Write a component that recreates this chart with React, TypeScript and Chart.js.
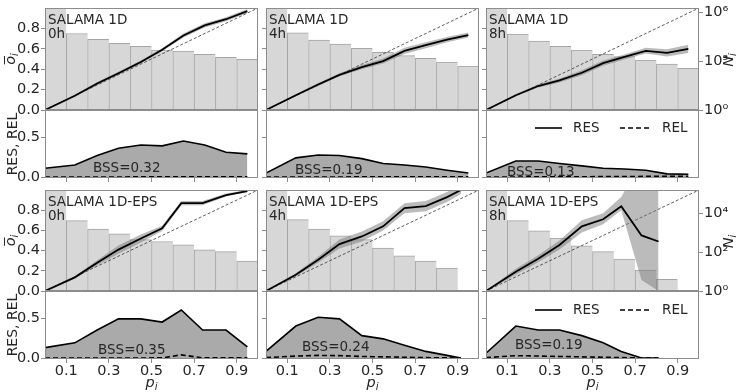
import React, { useEffect, useRef } from "react";
import { Chart, registerables } from "chart.js";

Chart.register(...registerables);

// ---------------- shared axis data ----------------
const BIN_CENTERS = [0.05, 0.15, 0.25, 0.35, 0.45, 0.55, 0.65, 0.75, 0.85, 0.95];
const X_TICKS = [0.1, 0.3, 0.5, 0.7, 0.9];
const REL_Y_TICKS = [0.0, 0.2, 0.4, 0.6, 0.8];
const RES_Y_TICKS = [0.0, 0.5];
const N_TICKS_1D = [1, 1e3, 1e6];
const N_TICK_LABELS_1D = ["10⁰", "10³", "10⁶"];
const N_TICKS_EPS = [1, 1e2, 1e4];
const N_TICK_LABELS_EPS = ["10⁰", "10²", "10⁴"];
const MODELS = ["SALAMA 1D", "SALAMA 1D-EPS"];
const LEADS = ["0h", "4h", "8h"];

// ---------------- SALAMA 1D, 0h ----------------
const P_1D_0H = [0.0, 0.14, 0.245, 0.345, 0.45, 0.55, 0.65, 0.75, 0.85, 0.95];
const O_1D_0H = [0.0, 0.14, 0.26, 0.36, 0.47, 0.59, 0.73, 0.83, 0.89, 0.97];
const OLO_1D_0H = [0.0, 0.13, 0.245, 0.345, 0.455, 0.575, 0.71, 0.81, 0.87, 0.95];
const OHI_1D_0H = [0.0, 0.15, 0.275, 0.375, 0.485, 0.605, 0.75, 0.85, 0.91, 0.99];
const N_1D_0H = [5000000, 49000, 21400, 12000, 7900, 4700, 4100, 2600, 1660, 1260];
const RES_1D_0H = [0.11, 0.15, 0.27, 0.36, 0.4, 0.39, 0.45, 0.4, 0.31, 0.29];
const REL_1D_0H = [0.0, 0.0, 0.001, 0.001, 0.002, 0.002, 0.004, 0.003, 0.002, 0.002];
const BSS_1D_0H = "BSS=0.32";

// ---------------- SALAMA 1D, 4h ----------------
const P_1D_4H = [0.0, 0.14, 0.245, 0.345, 0.45, 0.55, 0.65, 0.75, 0.85, 0.95];
const O_1D_4H = [0.0, 0.145, 0.25, 0.345, 0.42, 0.48, 0.58, 0.635, 0.69, 0.735];
const OLO_1D_4H = [0.0, 0.135, 0.235, 0.33, 0.4, 0.455, 0.55, 0.605, 0.665, 0.71];
const OHI_1D_4H = [0.0, 0.155, 0.265, 0.36, 0.44, 0.505, 0.61, 0.665, 0.715, 0.76];
const N_1D_4H = [5000000, 53700, 19500, 11000, 6000, 3400, 2140, 1450, 870, 490];
const RES_1D_4H = [0.05, 0.24, 0.275, 0.27, 0.23, 0.17, 0.15, 0.125, 0.085, 0.05];
const REL_1D_4H = [0.0, 0.001, 0.001, 0.001, 0.002, 0.003, 0.004, 0.004, 0.003, 0.003];
const BSS_1D_4H = "BSS=0.19";

// ---------------- SALAMA 1D, 8h ----------------
const P_1D_8H = [0.0, 0.14, 0.245, 0.345, 0.45, 0.55, 0.65, 0.75, 0.85, 0.95];
const O_1D_8H = [0.0, 0.145, 0.235, 0.29, 0.365, 0.46, 0.52, 0.58, 0.56, 0.6];
const OLO_1D_8H = [0.0, 0.135, 0.22, 0.27, 0.34, 0.435, 0.495, 0.555, 0.525, 0.56];
const OHI_1D_8H = [0.0, 0.155, 0.25, 0.31, 0.39, 0.485, 0.545, 0.61, 0.595, 0.64];
const N_1D_8H = [5000000, 44700, 16600, 7900, 4700, 2600, 1860, 1150, 660, 355];
const RES_1D_8H = [0.05, 0.2, 0.2, 0.17, 0.14, 0.11, 0.1, 0.085, 0.04, 0.035];
const REL_1D_8H = [0.0, 0.001, 0.002, 0.003, 0.004, 0.005, 0.006, 0.008, 0.009, 0.01];
const BSS_1D_8H = "BSS=0.13";

// ---------------- SALAMA 1D-EPS, 0h ----------------
const P_EPS_0H = [0.0, 0.14, 0.245, 0.345, 0.45, 0.55, 0.64, 0.74, 0.85, 0.95];
const O_EPS_0H = [0.0, 0.135, 0.28, 0.41, 0.52, 0.62, 0.87, 0.87, 0.95, 0.99];
const OLO_EPS_0H = [0.0, 0.125, 0.255, 0.37, 0.48, 0.595, 0.85, 0.85, 0.935, 0.98];
const OHI_EPS_0H = [0.0, 0.145, 0.305, 0.45, 0.56, 0.645, 0.89, 0.89, 0.965, 1.0];
const N_EPS_0H = [500000, 4170, 1550, 890, 440, 355, 240, 132, 107, 35];
const RES_EPS_0H = [0.13, 0.19, 0.35, 0.49, 0.49, 0.45, 0.6, 0.35, 0.35, 0.14];
const REL_EPS_0H = [0.0, 0.0, 0.001, 0.001, 0.001, 0.002, 0.04, 0.002, 0.002, 0.002];
const BSS_EPS_0H = "BSS=0.35";

// ---------------- SALAMA 1D-EPS, 4h ----------------
const P_EPS_4H = [0.0, 0.14, 0.245, 0.345, 0.45, 0.55, 0.65, 0.75, 0.85, 0.915];
const O_EPS_4H = [0.0, 0.16, 0.31, 0.465, 0.54, 0.64, 0.82, 0.84, 0.93, 1.0];
const OLO_EPS_4H = [0.0, 0.145, 0.28, 0.42, 0.49, 0.6, 0.77, 0.79, 0.88, 0.96];
const OHI_EPS_4H = [0.0, 0.175, 0.34, 0.51, 0.59, 0.69, 0.87, 0.89, 0.98, 1.05];
const N_EPS_4H = [500000, 4700, 1550, 690, 440, 162, 65, 35, 15, 1];
const RES_EPS_4H = [0.083, 0.4, 0.51, 0.49, 0.28, 0.24, 0.16, 0.083, 0.033, 0.0];
const REL_EPS_4H = [0.005, 0.025, 0.033, 0.03, 0.02, 0.015, 0.01, 0.005, 0.002, 0.0];
const BSS_EPS_4H = "BSS=0.24";

// ---------------- SALAMA 1D-EPS, 8h ----------------
const P_EPS_8H = [0.0, 0.14, 0.245, 0.345, 0.45, 0.55, 0.635, 0.73, 0.81];
const O_EPS_8H = [0.0, 0.19, 0.32, 0.455, 0.64, 0.71, 0.84, 0.55, 0.49];
const OLO_EPS_8H = [0.0, 0.16, 0.285, 0.41, 0.58, 0.66, 0.8, 0.11, 0.0];
const OHI_EPS_8H = [0.0, 0.22, 0.355, 0.5, 0.7, 0.77, 0.93, 1.3, 1.3];
const N_EPS_8H = [500000, 4170, 1260, 525, 214, 107, 44, 12, 4, 1];
const RES_EPS_8H = [0.06, 0.4, 0.35, 0.35, 0.28, 0.19, 0.083, 0.0, 0.0];
const REL_EPS_8H = [0.005, 0.03, 0.025, 0.02, 0.015, 0.01, 0.005, 0.0, 0.0];
const BSS_EPS_8H = "BSS=0.19";

type PanelData = {
  p: number[]; o: number[]; lo: number[]; hi: number[]; n: number[];
  res: number[]; rel: number[]; bss: string;
};

const PANEL_DATA: PanelData[][] = [
  [
    { p: P_1D_0H, o: O_1D_0H, lo: OLO_1D_0H, hi: OHI_1D_0H, n: N_1D_0H, res: RES_1D_0H, rel: REL_1D_0H, bss: BSS_1D_0H },
    { p: P_1D_4H, o: O_1D_4H, lo: OLO_1D_4H, hi: OHI_1D_4H, n: N_1D_4H, res: RES_1D_4H, rel: REL_1D_4H, bss: BSS_1D_4H },
    { p: P_1D_8H, o: O_1D_8H, lo: OLO_1D_8H, hi: OHI_1D_8H, n: N_1D_8H, res: RES_1D_8H, rel: REL_1D_8H, bss: BSS_1D_8H },
  ],
  [
    { p: P_EPS_0H, o: O_EPS_0H, lo: OLO_EPS_0H, hi: OHI_EPS_0H, n: N_EPS_0H, res: RES_EPS_0H, rel: REL_EPS_0H, bss: BSS_EPS_0H },
    { p: P_EPS_4H, o: O_EPS_4H, lo: OLO_EPS_4H, hi: OHI_EPS_4H, n: N_EPS_4H, res: RES_EPS_4H, rel: REL_EPS_4H, bss: BSS_EPS_4H },
    { p: P_EPS_8H, o: O_EPS_8H, lo: OLO_EPS_8H, hi: OHI_EPS_8H, n: N_EPS_8H, res: RES_EPS_8H, rel: REL_EPS_8H, bss: BSS_EPS_8H },
  ],
];

const N_TICKS = [N_TICKS_1D, N_TICKS_EPS];
const N_TICK_LABELS = [N_TICK_LABELS_1D, N_TICK_LABELS_EPS];
const N_MAX = [Math.pow(10, 6.25), Math.pow(10, 5.2)];

// ---------------- layout / style ----------------
const FONT = '"DejaVu Sans", sans-serif';
const FS = 13.5;
const TICK_FS = 14.5;
const TEXT = "#262626";
const SPINE = "#8c8c8c";
const COL_X = [45, 266, 486];
const COL_W = 213;
const REL_TOP = [8, 190];
const REL_H = [102, 101];
const RES_TOP = [110, 291];
const RES_H = [68, 68];
const PADL = 46;
const PADT = 12;
const BSS_OFF = [
  [[48, 58], [29, 60], [21, 62]],
  [[53, 59], [36, 56], [29, 54]],
];

type Spec = { kind: "rel" | "res"; row: number; col: number; left: number; top: number; w: number; h: number };

const SPECS: Spec[] = [];
for (let r = 0; r < 2; r++) {
  for (let c = 0; c < 3; c++) {
    const relPadR = c === 2 ? 39 : 8;
    SPECS.push({ kind: "rel", row: r, col: c, left: COL_X[c] - PADL, top: REL_TOP[r] - PADT, w: PADL + COL_W + relPadR, h: PADT + REL_H[r] + 12 });
    SPECS.push({ kind: "res", row: r, col: c, left: COL_X[c] - PADL, top: RES_TOP[r] - PADT, w: PADL + COL_W + 8, h: PADT + RES_H[r] + (r === 1 ? 33 : 12) });
  }
}

function pts(xs: number[], ys: number[]) {
  return ys.map((y, i) => ({ x: xs[i], y }));
}

function fixedTicks(values: number[]) {
  return (s: any) => {
    s.ticks = values.map((v) => ({ value: v }));
  };
}

function mathLabel(ctx: CanvasRenderingContext2D, base: string, sub: string, x: number, y: number, rot: number, bar: boolean) {
  ctx.save();
  ctx.translate(x, y);
  ctx.rotate(rot);
  const size = 14.5;
  const fb = `italic ${size}px ${FONT}`;
  const fs = `italic ${size * 0.7}px ${FONT}`;
  ctx.font = fb;
  const wb = ctx.measureText(base).width;
  ctx.font = fs;
  const ws = ctx.measureText(sub).width;
  const x0 = -(wb + ws) / 2;
  ctx.fillStyle = TEXT;
  ctx.textBaseline = "middle";
  ctx.textAlign = "left";
  ctx.font = fb;
  ctx.fillText(base, x0, 0);
  ctx.font = fs;
  ctx.fillText(sub, x0 + wb, size * 0.32);
  if (bar) {
    ctx.strokeStyle = TEXT;
    ctx.lineWidth = 1;
    ctx.beginPath();
    ctx.moveTo(x0 + 0.5, -size * 0.45);
    ctx.lineTo(x0 + wb, -size * 0.45);
    ctx.stroke();
  }
  ctx.restore();
}

function plainText(ctx: CanvasRenderingContext2D, s: string, x: number, y: number, align: CanvasTextAlign = "left", rot = 0, size = FS) {
  ctx.save();
  ctx.translate(x, y);
  ctx.rotate(rot);
  ctx.font = `${size}px ${FONT}`;
  ctx.fillStyle = TEXT;
  ctx.textAlign = align;
  ctx.textBaseline = "middle";
  ctx.fillText(s, 0, 0);
  ctx.restore();
}

function buildConfig(spec: Spec): any {
  const { kind, row, col } = spec;
  const d = PANEL_DATA[row][col];
  const tickFont = { family: FONT, size: TICK_FS };

  const decor = {
    id: "decor",
    afterDraw(chart: any) {
      const ctx: CanvasRenderingContext2D = chart.ctx;
      const a = chart.chartArea;
      ctx.save();
      ctx.strokeStyle = SPINE;
      ctx.lineWidth = 1;
      ctx.strokeRect(Math.round(a.left) + 0.5, Math.round(a.top) + 0.5, Math.round(a.right - a.left) - 1, Math.round(a.bottom - a.top) - 1);
      ctx.translate(-spec.left, -spec.top);
      const cx = COL_X[col];
      if (kind === "rel") {
        const top = REL_TOP[row];
        plainText(ctx, MODELS[row], cx + 3, top + 12.5);
        plainText(ctx, LEADS[col], cx + 3, top + 26);
        if (col === 0) mathLabel(ctx, "o", "i", 11, top + REL_H[row] / 2, -Math.PI / 2, true);
        if (col === 2) mathLabel(ctx, "N", "i", 729, top + REL_H[row] / 2 + 1, -Math.PI / 2, false);
      } else {
        const top = RES_TOP[row];
        const off = BSS_OFF[row][col];
        plainText(ctx, d.bss, cx + off[0], top + off[1]);
        if (col === 0) plainText(ctx, "RES, REL", 13, top + RES_H[row] / 2, "center", -Math.PI / 2, 14);
        if (col === 2) {
          const ly = top + 18 + row;
          ctx.strokeStyle = "#000";
          ctx.lineWidth = 1.6;
          ctx.beginPath();
          ctx.moveTo(cx + 49, ly);
          ctx.lineTo(cx + 76, ly);
          ctx.stroke();
          plainText(ctx, "RES", cx + 87, ly);
          ctx.setLineDash([5, 3]);
          ctx.beginPath();
          ctx.moveTo(cx + 134, ly);
          ctx.lineTo(cx + 164, ly);
          ctx.stroke();
          ctx.setLineDash([]);
          plainText(ctx, "REL", cx + 176, ly);
        }
        if (row === 1) mathLabel(ctx, "p", "i", cx + COL_W / 2, 383, 0, false);
      }
      ctx.restore();
    },
  };

  const xScale = {
    type: "linear",
    min: 0,
    max: 1,
    offset: false,
    afterBuildTicks: fixedTicks(X_TICKS),
    afterFit: (s: any) => {
      s.height = kind === "res" && row === 1 ? 33 : 12;
    },
    ticks: {
      display: kind === "res" && row === 1,
      autoSkip: false,
      maxRotation: 0,
      padding: 0,
      color: TEXT,
      font: tickFont,
      callback: (v: any) => Number(v).toFixed(1),
    },
    grid: { display: true, drawOnChartArea: false, drawTicks: kind === "res", tickLength: 4, tickColor: SPINE, tickWidth: 1 },
    border: { display: false },
  };

  const common = {
    responsive: false,
    maintainAspectRatio: false,
    animation: false,
    events: [],
    plugins: { legend: { display: false }, tooltip: { enabled: false } },
  };

  if (kind === "rel") {
    const nt = N_TICKS[row];
    const nl = N_TICK_LABELS[row];
    return {
      type: "line",
      data: {
        datasets: [
          { type: "line", data: pts(d.p, d.o), borderColor: "#000", borderWidth: 1.8, pointRadius: 0, tension: 0, fill: false, order: 0, yAxisID: "y" },
          { type: "line", data: pts(d.p, d.hi), borderWidth: 0, borderColor: "rgba(0,0,0,0)", pointRadius: 0, tension: 0, fill: "+1", backgroundColor: "rgba(120,120,120,0.5)", order: 1, yAxisID: "y", clip: 0 },
          { type: "line", data: pts(d.p, d.lo), borderWidth: 0, borderColor: "rgba(0,0,0,0)", pointRadius: 0, tension: 0, fill: false, order: 1, yAxisID: "y", clip: 0 },
          { type: "line", data: [{ x: 0, y: 0 }, { x: 1, y: 1 }], borderColor: "#333", borderWidth: 0.8, borderDash: [3, 2], pointRadius: 0, fill: false, order: 2, yAxisID: "y" },
          {
            type: "bar",
            data: pts(BIN_CENTERS, d.n),
            backgroundColor: "rgb(215,215,215)",
            borderColor: "rgb(165,165,165)",
            borderWidth: { top: 1, left: 1, right: 0, bottom: 0 },
            borderSkipped: false,
            barPercentage: 1,
            categoryPercentage: 1,
            base: 1,
            order: 3,
            yAxisID: "yN",
            clip: 0,
          },
        ],
      },
      options: {
        ...common,
        layout: { padding: { top: PADT, left: 0, right: 0, bottom: 0 }, autoPadding: false },
        scales: {
          x: xScale,
          y: {
            type: "linear",
            position: "left",
            min: 0,
            max: 1,
            afterBuildTicks: fixedTicks(REL_Y_TICKS),
            afterFit: (s: any) => {
              s.width = PADL;
            },
            ticks: { display: col === 0, autoSkip: false, padding: 1, color: TEXT, font: tickFont, callback: (v: any) => Number(v).toFixed(1) },
            grid: { display: true, drawOnChartArea: false, drawTicks: true, tickLength: 4, tickColor: SPINE, tickWidth: 1 },
            border: { display: false },
          },
          yN: {
            type: "logarithmic",
            position: "right",
            min: 1,
            max: N_MAX[row],
            afterBuildTicks: fixedTicks(nt),
            afterFit: (s: any) => {
              s.width = col === 2 ? 39 : 8;
            },
            ticks: {
              display: col === 2,
              autoSkip: false,
              padding: 1,
              color: TEXT,
              font: tickFont,
              callback: (v: any) => {
                const i = nt.findIndex((t) => Math.abs(Math.log10(t) - Math.log10(Number(v))) < 1e-6);
                return i >= 0 ? nl[i] : "";
              },
            },
            grid: { display: true, drawOnChartArea: false, drawTicks: col === 2, tickLength: 4, tickColor: SPINE, tickWidth: 1 },
            border: { display: false },
          },
        },
      },
      plugins: [decor],
    };
  }

  return {
    type: "line",
    data: {
      datasets: [
        { type: "line", data: pts(d.p, d.rel), borderColor: "#000", borderWidth: 1.6, borderDash: [5, 3], pointRadius: 0, tension: 0, fill: false, order: 0, yAxisID: "y" },
        { type: "line", data: pts(d.p, d.res), borderColor: "#000", borderWidth: 1.6, pointRadius: 0, tension: 0, fill: "origin", backgroundColor: "rgb(170,170,170)", order: 1, yAxisID: "y" },
      ],
    },
    options: {
      ...common,
      layout: { padding: { top: PADT, left: 0, right: 8, bottom: 0 }, autoPadding: false },
      scales: {
        x: xScale,
        y: {
          type: "linear",
          position: "left",
          min: -0.012,
          max: 0.838,
          afterBuildTicks: fixedTicks(RES_Y_TICKS),
          afterFit: (s: any) => {
            s.width = PADL;
          },
          ticks: { display: col === 0, autoSkip: false, padding: 1, color: TEXT, font: tickFont, callback: (v: any) => Number(v).toFixed(1) },
          grid: { display: true, drawOnChartArea: false, drawTicks: true, tickLength: 4, tickColor: SPINE, tickWidth: 1 },
          border: { display: false },
        },
      },
    },
    plugins: [decor],
  };
}

export default function App() {
  const refs = useRef<(HTMLCanvasElement | null)[]>([]);

  useEffect(() => {
    const charts = SPECS.map((s, i) => new Chart(refs.current[i] as HTMLCanvasElement, buildConfig(s)));
    return () => charts.forEach((c) => c.destroy());
  }, []);

  return (
    <div style={{ position: "fixed", left: 0, top: 0, width: 738, height: 392, background: "#fff", overflow: "hidden" }}>
      {SPECS.map((s, i) => (
        <canvas
          key={i}
          ref={(el) => {
            refs.current[i] = el;
          }}
          width={s.w}
          height={s.h}
          style={{ position: "absolute", left: s.left, top: s.top, width: s.w, height: s.h }}
        />
      ))}
    </div>
  );
}
